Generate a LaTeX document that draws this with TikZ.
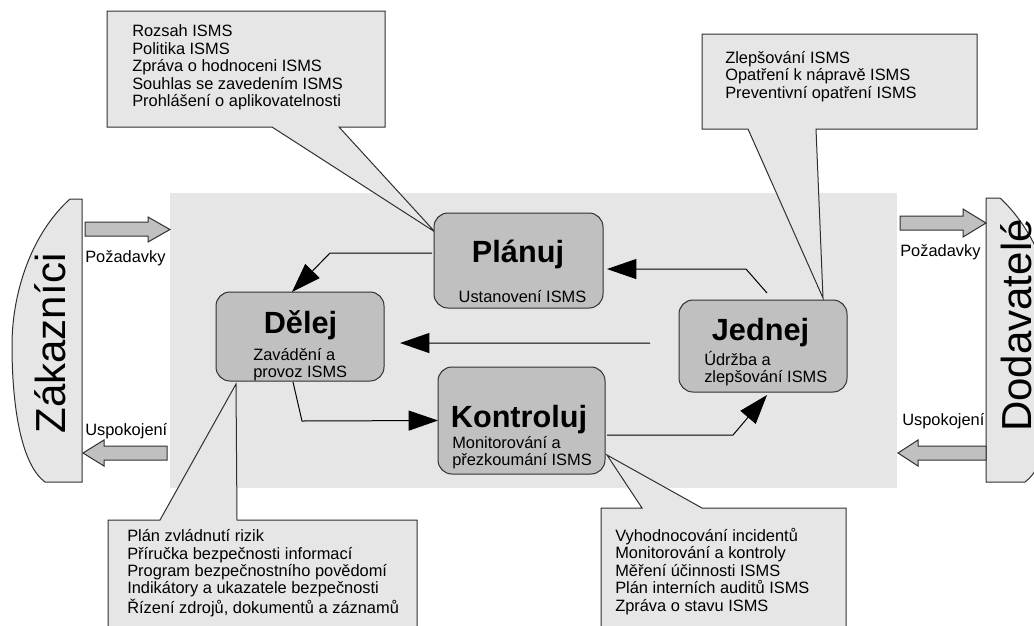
\documentclass[tikz,border=0pt]{standalone}
\usepackage{fontspec}
\setmainfont{Liberation Sans}
\usetikzlibrary{arrows.meta,calc}
\definecolor{panel}{HTML}{E6E6E6}
\definecolor{stagefill}{HTML}{C0C0C0}
\definecolor{edge}{HTML}{303030}
\pgfdeclarelayer{back}
\pgfdeclarelayer{mid}
\pgfsetlayers{back,mid,main}
\begin{document}
\begin{tikzpicture}[x=0.75pt,y=-0.75pt,
  stage/.style={draw=edge, fill=stagefill, line width=0.75pt, rounded corners=10.5pt,
    inner sep=0pt, outer sep=0pt},
  title/.style={font=\fontsize{23pt}{26pt}\selectfont\bfseries, inner sep=0pt},
  txt/.style={font=\fontsize{12.3pt}{13.1pt}\selectfont, inner sep=0pt, align=left},
  big/.style={font=\fontsize{31.5pt}{34pt}\selectfont, inner sep=0pt, rotate=90},
  flow/.style={draw=black, line width=0.75pt, -{Triangle[length=22pt,width=15pt]}},
  callout/.style={draw=edge, fill=panel, line width=0.75pt, line join=miter},
  blockarrow/.style={draw=edge, fill=stagefill, line width=0.75pt},
  party/.style={draw=edge, fill=panel, line width=0.75pt}]
\clip (0,0) rectangle (1034,625);

% shaded working area
\begin{pgfonlayer}{back}
  \fill[panel] (170,193) rectangle (897,488);
\end{pgfonlayer}

% the four PDCA stages
\node[stage, minimum width=126.75pt, minimum height=71.25pt] (plan)  at (518.5,260.5) {};
\node[stage, minimum width=126pt,    minimum height=66.75pt] (do)    at (300,336.5) {};
\node[stage, minimum width=125.25pt, minimum height=80.25pt] (check) at (521.5,420.5) {};
\node[stage, minimum width=126pt,    minimum height=69pt]    (act)   at (763,346) {};

\node[title, anchor=base] (planT)  at (518,262)   {Plánuj};
\node[title, anchor=base] (doT)    at (300.5,333) {Dělej};
\node[title, anchor=base] (checkT) at (519,427)   {Kontroluj};
\node[title, anchor=base] (actT)   at (760.5,340) {Jednej};

% multi-line texts are placed by the baseline of their last line
\node[txt, anchor=base]      (planS)  at (522.5,302) {Ustanovení ISMS};
\node[txt, anchor=base west] (doS)    at (253,377.5) {Zavádění a\\provoz ISMS};
\node[txt, anchor=base west] (checkS) at (452,465.5) {Monitorování a\\přezkoumání ISMS};
\node[txt, anchor=base west] (actS)   at (704,382.5) {Údržba a\\zlepšování ISMS};

% cycle connectors
\coordinate (k1) at (330,253);
\coordinate (k2) at (746,269);
\coordinate (k3) at (302,421);
\coordinate (k4) at (733,435);
\draw[flow] ([xshift=-1.5pt,yshift=5.6pt]plan.west) -- (k1) -- ([xshift=-6pt]do.north);
\draw[flow] ([xshift=3pt,yshift=5.25pt]act.north) -- (k2) -- ([xshift=3pt,yshift=-6.4pt]plan.east);
\draw[flow] ([xshift=-21.75pt,yshift=2.25pt]act.west) -- ([xshift=12pt,yshift=-4.9pt]do.east);
\draw[flow] ([xshift=-5.25pt,yshift=-0.75pt]do.south) -- (k3) -- (check.west);
\draw[flow] ([xshift=1.5pt,yshift=-10.9pt]check.east) -- (k4) -- ([xshift=3pt,yshift=-2.25pt]act.south);

% callouts with the documents of each stage
\begin{pgfonlayer}{mid}
  \draw[callout] (107,11) -- (385,11) -- (385,127) -- (339,127)
    -- ([xshift=0.75pt,yshift=21.4pt]plan.west) -- (272,127) -- (107,127) -- cycle;
  \draw[callout] (702,34) -- (977,34) -- (977,129) -- (816,129)
    -- ([xshift=45pt,yshift=1.5pt]act.north) -- (748,129) -- (702,129) -- cycle;
  \draw[callout] (108,520) -- (160,520) -- ([xshift=-48pt,yshift=-2.25pt]do.south)
    -- (237,520) -- (417,520) -- (417,640) -- (108,640) -- cycle;
  \draw[callout] (601,508) -- (642,508) -- ([xshift=1.5pt,yshift=-25.9pt]check.east)
    -- (702,508) -- (846,508) -- (846,640) -- (601,640) -- cycle;
\end{pgfonlayer}

\node[txt, anchor=base west] (planDocs) at (132,106.5)
  {Rozsah ISMS\\Politika ISMS\\Zpráva o hodnoceni ISMS\\Souhlas se zavedením ISMS\\Prohlášení o aplikovatelnosti};
\node[txt, anchor=base west] (actDocs) at (725,98)
  {Zlepšování ISMS\\Opatření k nápravě ISMS\\Preventivní opatření ISMS};
\node[txt, anchor=base west] (doDocs) at (127,613)
  {Plán zvládnutí rizik\\Příručka bezpečnosti informací\\Program bezpečnostního povědomí\\Indikátory a ukazatele bezpečnosti\\Řízení zdrojů, dokumentů a záznamů};
\node[txt, anchor=base west] (checkDocs) at (615,611)
  {Vyhodnocování incidentů\\Monitorování a kontroly\\Měření účinnosti ISMS\\Plán interních auditů ISMS\\Zpráva o stavu ISMS};

% customers and suppliers
\draw[party] (82,199) -- (70,199) .. controls (30,235) and (12,295) .. (12,345)
  .. controls (12,410) and (22,465) .. (45,482) -- (82,482) -- cycle;
\draw[party] (986,198) -- (1000,198) .. controls (1040,235) and (1058,295) .. (1058,345)
  .. controls (1058,410) and (1048,465) .. (1025,482) -- (986,482) -- cycle;
\node[big, anchor=base] (cust) at (65,343.5) {Zákazníci};
\node[big, anchor=base] (supp) at (1031,325.5) {Dodavatelé};

% requirement and satisfaction flows
\draw[blockarrow] (85,222) -- (148,222) -- (148,217) -- (170,229.5) -- (148,242) -- (148,236) -- (85,236) -- cycle;
\draw[blockarrow] (167,446) -- (104,446) -- (104,440) -- (83,453) -- (104,466) -- (104,460) -- (167,460) -- cycle;
\draw[blockarrow] (900,216) -- (963,216) -- (963,209) -- (986,223) -- (963,237) -- (963,230) -- (900,230) -- cycle;
\draw[blockarrow] (986,446) -- (918,446) -- (918,440) -- (898,453) -- (918,466) -- (918,460) -- (986,460) -- cycle;

\node[txt, anchor=base west] (reqL) at (85,262)  {Požadavky};
\node[txt, anchor=base west] (satL) at (85,435)  {Uspokojení};
\node[txt, anchor=base west] (reqR) at (900,256) {Požadavky};
\node[txt, anchor=base west] (satR) at (902,425) {Uspokojení};
\end{tikzpicture}
\end{document}
